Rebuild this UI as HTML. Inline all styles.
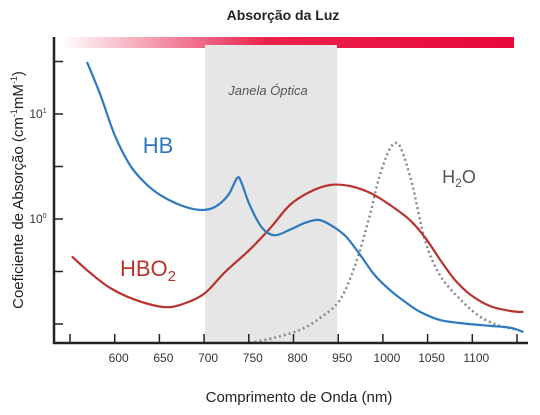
<!DOCTYPE html>
<html><head><meta charset="utf-8"><style>
body{margin:0;background:#fff;}
svg{display:block;font-family:"Liberation Sans",sans-serif;}
</style></head><body>
<svg id="chart" width="540" height="415" viewBox="0 0 540 415">
<defs><linearGradient id="lg" x1="0" x2="1"><stop offset="0" stop-color="#e8083a" stop-opacity="0.02"/><stop offset="0.45" stop-color="#e8083a" stop-opacity="0.9"/><stop offset="1" stop-color="#e8083a"/></linearGradient></defs>
<text x="283" y="20" text-anchor="middle" font-size="14" font-weight="bold" fill="#222">Absorção da Luz</text>
<rect x="65" y="37" width="449" height="11" fill="url(#lg)"/>
<rect x="205" y="45" width="132" height="298" fill="#e6e6e6"/>
<text x="268" y="95" text-anchor="middle" font-size="13" font-style="italic" fill="#555">Janela Óptica</text>
<g id="marks"></g>
<line x1="54" y1="37" x2="54" y2="344" stroke="#222" stroke-width="2.5"/>
<line x1="53" y1="343" x2="528" y2="343" stroke="#222" stroke-width="2.5"/>
<g id="ticks"></g>
<text x="158" y="153" text-anchor="middle" font-size="22" fill="#2f78c0">HB</text>
<text x="148" y="276" text-anchor="middle" font-size="22" fill="#b8332f">HBO<tspan font-size="15" dy="5">2</tspan></text>
<text x="459" y="183" text-anchor="middle" font-size="18" fill="#555">H<tspan font-size="12" dy="4">2</tspan><tspan dy="-4">O</tspan></text>
<text transform="translate(23,190) rotate(-90)" text-anchor="middle" font-size="15" fill="#222">Coeficiente de Absorção (cm<tspan font-size="9" dy="-6">-1</tspan><tspan dy="6">mM</tspan><tspan font-size="9" dy="-6">-1</tspan><tspan dy="6">)</tspan></text>
<text x="299" y="402" text-anchor="middle" font-size="15" fill="#222">Comprimento de Onda (nm)</text>
</svg>
<script>
const tickWavelengths=[550,600,650,700,750,800,950,1000,1050,1100,1150];
const tickLabels=["","600","650","700","750","800","950","1000","1050","1100",""];
const yTickLogs=[1.5,1,0.5,0,-0.5,-1];
const yTickLabels=["","1","","0","",""];
const hbWl=[569,584,600,617,634,651,673,695,712,727,737,742,751,765,779,796,839,883,923,958,975,991,1008,1025,1042,1064,1087,1120,1143,1157];
const hbVal=[31.3,15.2,6.3,3.27,2.2,1.69,1.36,1.22,1.30,1.69,2.46,2.2,1.36,0.82,0.70,0.79,0.92,0.98,0.88,0.69,0.45,0.29,0.21,0.162,0.13,0.109,0.102,0.096,0.092,0.084];
const hbo2Wl=[552,572,595,623,656,679,701,723,751,774,796,855,923,963,986,1008,1030,1047,1064,1081,1098,1120,1143,1157];
const hbo2Val=[0.44,0.31,0.22,0.17,0.145,0.158,0.197,0.31,0.51,0.82,1.36,1.81,2.11,2.06,1.77,1.36,0.98,0.67,0.41,0.26,0.19,0.148,0.133,0.13];
const h2oWl=[751,779,822,889,952,969,984,995,1006,1014,1021,1033,1047,1064,1087,1109,1131,1151];
const h2oVal=[0.066,0.074,0.088,0.114,0.17,0.365,0.98,2.35,4.35,5.3,4.54,2.11,0.63,0.29,0.17,0.117,0.096,0.088];

const tickX0=70, tickStep=44.7;
function xScale(w){
  for(let i=0;i<tickWavelengths.length-1;i++){
    const a=tickWavelengths[i],b=tickWavelengths[i+1];
    if(w<=b||i===tickWavelengths.length-2){return tickX0+tickStep*(i+(w-a)/(b-a));}
  }
}
function yScale(v){return 219-105*Math.log10(v);}
function pathFrom(wl,val){
  const p=wl.map((w,i)=>[xScale(w),yScale(val[i])]);
  let d="M"+p[0][0].toFixed(1)+","+p[0][1].toFixed(1);
  for(let i=0;i<p.length-1;i++){
    const p0=p[i-1]||p[i],p1=p[i],p2=p[i+1],p3=p[i+2]||p2;
    const c1=[p1[0]+(p2[0]-p0[0])/6,p1[1]+(p2[1]-p0[1])/6];
    const c2=[p2[0]-(p3[0]-p1[0])/6,p2[1]-(p3[1]-p1[1])/6];
    d+=" C"+c1.map(n=>n.toFixed(1))+" "+c2.map(n=>n.toFixed(1))+" "+p2.map(n=>n.toFixed(1));
  }
  return d;
}
const NS="http://www.w3.org/2000/svg";
const marks=document.getElementById("marks");
function addLine(wl,val,color,dash,name){
  const el=document.createElementNS(NS,"path");
  el.setAttribute("d",pathFrom(wl,val));
  el.setAttribute("fill","none");
  el.setAttribute("stroke",color);
  el.setAttribute("stroke-width",dash?"2.5":"2.2");
  if(dash)el.setAttribute("stroke-dasharray","2 3");
  
  
  marks.appendChild(el);
}
addLine(h2oWl,h2oVal,"#888",true,"h2o-line");
addLine(hbo2Wl,hbo2Val,"#b8332f",false,"hbo2-line");
addLine(hbWl,hbVal,"#2f78c0",false,"hb-line");

const ticks=document.getElementById("ticks");
tickWavelengths.forEach((w,i)=>{
  const x=xScale(w);
  const t=document.createElementNS(NS,"line");
  t.setAttribute("x1",x);t.setAttribute("x2",x);t.setAttribute("y1",334);t.setAttribute("y2",343);
  t.setAttribute("stroke","#222");t.setAttribute("stroke-width","1.5");
  
  
  ticks.appendChild(t);
  if(tickLabels[i]){
    const l=document.createElementNS(NS,"text");
    l.setAttribute("x",x+4);l.setAttribute("y",362);l.setAttribute("text-anchor","middle");
    l.setAttribute("font-size","12");l.setAttribute("fill","#333");
    l.textContent=tickLabels[i];
    
    
    ticks.appendChild(l);
  }
});
yTickLogs.forEach((g,i)=>{
  const y=yScale(Math.pow(10,g));
  const t=document.createElementNS(NS,"line");
  t.setAttribute("x1",54);t.setAttribute("x2",63);t.setAttribute("y1",y);t.setAttribute("y2",y);
  t.setAttribute("stroke","#222");t.setAttribute("stroke-width","1.5");
  
  
  ticks.appendChild(t);
  if(yTickLabels[i]){
    const l=document.createElementNS(NS,"text");
    l.setAttribute("x",38);l.setAttribute("y",y+4);l.setAttribute("text-anchor","middle");
    l.setAttribute("font-size","12");l.setAttribute("fill","#333");
    l.innerHTML='10<tspan font-size="7" dy="-5">'+yTickLabels[i]+'</tspan>';
    
    
    ticks.appendChild(l);
  }
});
</script>
</body></html>
